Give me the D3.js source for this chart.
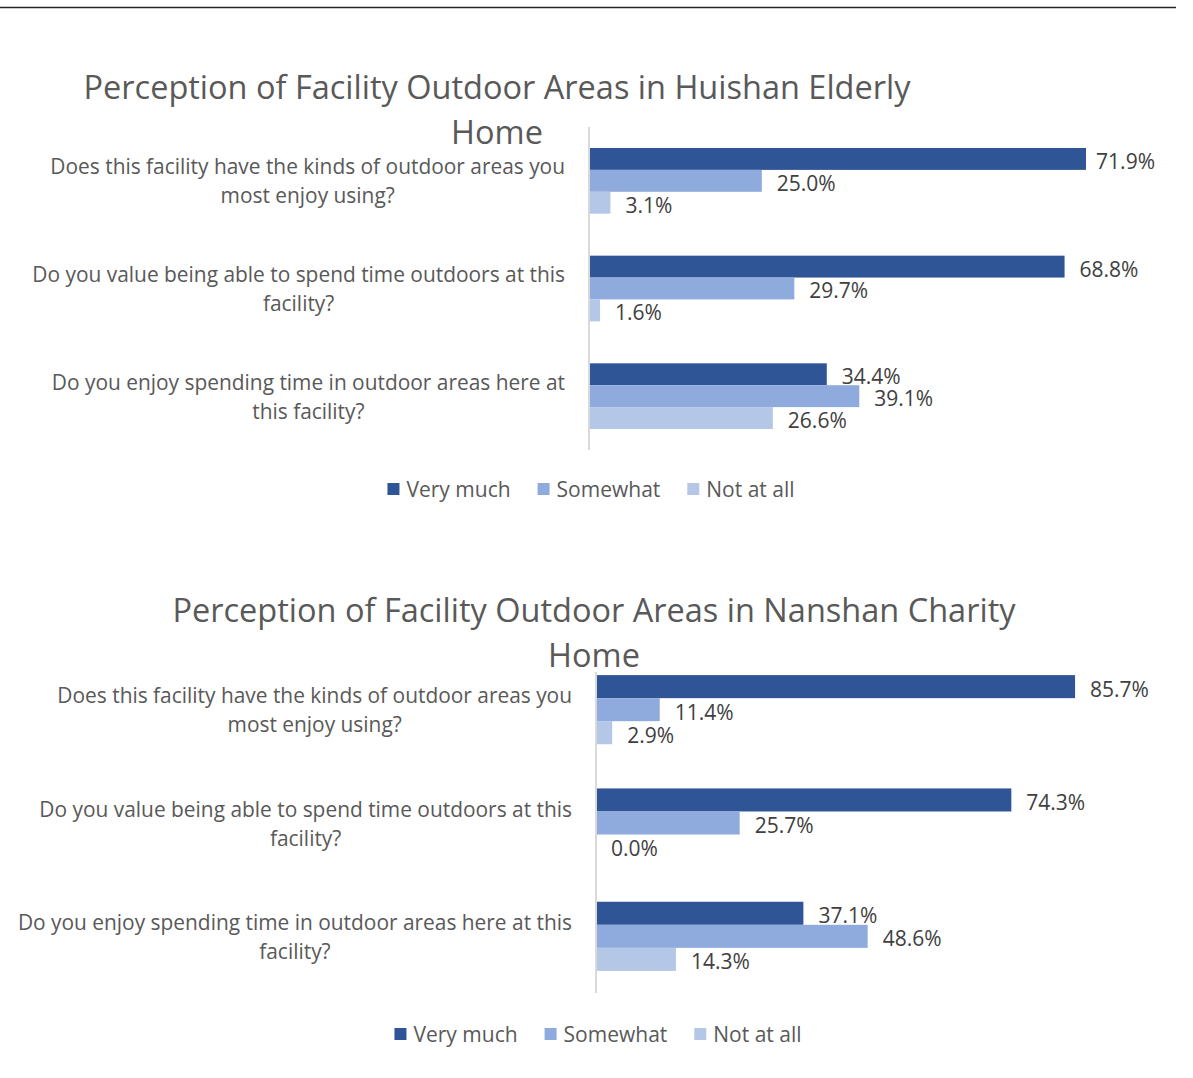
<!DOCTYPE html>
<html>
<head>
<meta charset="utf-8">
<script src="https://cdn.jsdelivr.net/npm/d3@7"></script>
<style>
  body { margin: 0; background: #fff; }
  svg { display: block; font-family: "Open Sans", sans-serif; }
</style>
</head>
<body>
<div id="chart"></div>
<script>
// Series names and colours
const seriesNames = ['Very much', 'Somewhat', 'Not at all'];
const seriesColors = ['#2f5597', '#8faadc', '#b4c7e7'];

// Category labels, already split the way they wrap in each chart
const huishanLabels = [
    ['Does this facility have the kinds of outdoor areas you', 'most enjoy using?'],
    ['Do you value being able to spend time outdoors at this', 'facility?'],
    ['Do you enjoy spending time in outdoor areas here at', 'this facility?']
];
const nanshanLabels = [
    ['Does this facility have the kinds of outdoor areas you', 'most enjoy using?'],
    ['Do you value being able to spend time outdoors at this', 'facility?'],
    ['Do you enjoy spending time in outdoor areas here at this', 'facility?']
];

// Percentages (%)
const huishanVeryMuch = [71.9, 68.8, 34.4];
const huishanSomewhat = [25.0, 29.7, 39.1];
const huishanNotAtAll = [3.1, 1.6, 26.6];

const nanshanVeryMuch = [85.7, 74.3, 37.1];
const nanshanSomewhat = [11.4, 25.7, 48.6];
const nanshanNotAtAll = [2.9, 0.0, 14.3];

const width = 1193;
const height = 1078;

const svg = d3.select('#chart').append('svg')
    .attr('width', width)
    .attr('height', height);

// Rule across the top of the page
svg.append('line')
    .attr('x1', 0).attr('x2', 1176)
    .attr('y1', 7.5).attr('y2', 7.5)
    .attr('stroke', '#262626')
    .attr('stroke-width', 1.5);

function drawChart(opts) {
    const g = svg.append('g');

    // Build rows from the named arrays
    const rows = opts.labels.map((lines, i) => ({
        lines: lines,
        values: [opts.veryMuch[i], opts.somewhat[i], opts.notAtAll[i]]
    }));

    const x = d3.scaleLinear()
        .domain([0, opts.xMax])
        .range([opts.left, opts.right]);

    const y = d3.scaleBand()
        .domain(d3.range(rows.length))
        .range([opts.top, opts.bottom])
        .paddingInner(0.39)
        .paddingOuter(0.195);

    const ySub = d3.scaleBand()
        .domain(d3.range(seriesNames.length))
        .range([0, y.bandwidth()]);

    // Title
    const title = g.append('text')
        .attr('text-anchor', 'middle')
        .attr('fill', '#595959')
        .style('font-size', '32.5px');
    opts.title.forEach((t, i) => {
        title.append('tspan')
            .attr('x', opts.titleX)
            .attr('y', opts.titleY + i * 45)
            .text(t);
    });

    // Bars
    const groups = g.selectAll('.group')
        .data(rows)
        .enter().append('g')
        .attr('class', 'group')
        .attr('transform', (d, i) => `translate(0,${y(i)})`);

    groups.selectAll('rect')
        .data(d => d.values)
        .enter().append('rect')
        .attr('x', x(0))
        .attr('y', (d, j) => ySub(j))
        .attr('width', d => x(d) - x(0))
        .attr('height', ySub.bandwidth())
        .attr('fill', (d, j) => seriesColors[j]);

    // Data labels, kept inside the chart area on the right
    groups.selectAll('.value')
        .data(d => d.values)
        .enter().append('text')
        .attr('class', 'value')
        .attr('y', (d, j) => ySub(j) + ySub.bandwidth() / 2 + 2)
        .attr('dominant-baseline', 'central')
        .attr('fill', '#404040')
        .style('font-size', '21px')
        .text(d => d.toFixed(1) + '%')
        .attr('x', function(d) {
            const w = this.getComputedTextLength();
            return Math.min(x(d) + 15, opts.labelMaxRight - w);
        });

    // Vertical category axis line
    g.append('line')
        .attr('x1', x(0)).attr('x2', x(0))
        .attr('y1', opts.axisTop).attr('y2', opts.bottom)
        .attr('stroke', '#d9d9d9')
        .attr('stroke-width', 2);

    // Category labels: lines centred on each other, right edge at labelRight
    rows.forEach((row, i) => {
        const cy = y(i) + y.bandwidth() / 2;
        const t = g.append('text')
            .attr('fill', '#595959')
            .attr('text-anchor', 'middle')
            .attr('dominant-baseline', 'central')
            .style('font-size', '20.9px');
        const spans = row.lines.map((line, k) => t.append('tspan')
            .attr('y', cy + (k - (row.lines.length - 1) / 2) * 29)
            .text(line));
        const maxW = d3.max(spans, s => s.node().getComputedTextLength());
        spans.forEach(s => s.attr('x', opts.labelRight - maxW / 2));
    });

    // Legend
    const legend = g.append('g');
    let lx = 0;
    seriesNames.forEach((name, j) => {
        const item = legend.append('g').attr('transform', `translate(${lx},0)`);
        item.append('rect')
            .attr('x', 0).attr('y', -6)
            .attr('width', 12).attr('height', 12)
            .attr('fill', seriesColors[j]);
        const txt = item.append('text')
            .attr('x', 19)
            .attr('y', 0)
            .attr('dominant-baseline', 'central')
            .attr('fill', '#595959')
            .style('font-size', '21px')
            .text(name);
        lx += 19 + txt.node().getComputedTextLength() + 27;
    });
    const legendW = lx - 27;
    legend.attr('transform', `translate(${opts.legendX - legendW / 2},${opts.legendY})`);
}

drawChart({
    title: ['Perception of Facility Outdoor Areas in Huishan Elderly', 'Home'],
    titleX: 497, titleY: 99,
    labels: huishanLabels,
    veryMuch: huishanVeryMuch, somewhat: huishanSomewhat, notAtAll: huishanNotAtAll,
    xMax: 80, left: 589, right: 1142,
    top: 127, bottom: 450, axisTop: 127,
    labelRight: 565, labelMaxRight: 1155,
    legendX: 591, legendY: 489
});

drawChart({
    title: ['Perception of Facility Outdoor Areas in Nanshan Charity', 'Home'],
    titleX: 594, titleY: 622,
    labels: nanshanLabels,
    veryMuch: nanshanVeryMuch, somewhat: nanshanSomewhat, notAtAll: nanshanNotAtAll,
    xMax: 100, left: 596, right: 1155,
    top: 653, bottom: 993, axisTop: 672,
    labelRight: 572, labelMaxRight: 1155,
    legendX: 598, legendY: 1034
});
</script>
</body>
</html>
